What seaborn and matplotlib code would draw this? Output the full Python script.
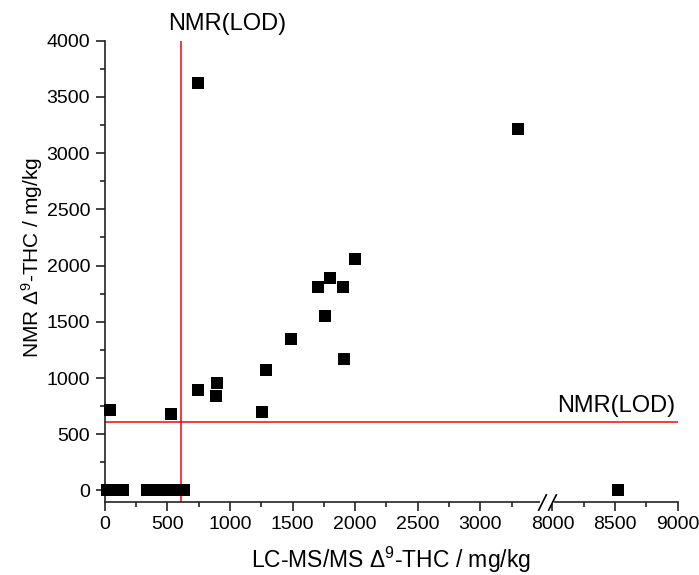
import numpy as np
import pandas as pd
import matplotlib
matplotlib.use('Agg')
import matplotlib.pyplot as plt
from matplotlib.ticker import FixedLocator
import seaborn as sns

# values (mg/kg)
lcms = [20, 65, 110, 150, 340, 410, 480, 550, 630,
        40, 531, 746, 898, 890, 1257, 1289, 1488, 1759, 1911,
        1703, 1903, 1799, 1997, 745, 3298, 8521]
nmr = [0, 0, 0, 0, 0, 0, 0, 0, 0,
       715, 679, 892, 955, 839, 697, 1070, 1346, 1550, 1168,
       1808, 1808, 1889, 2058, 3621, 3212, 0]
lod_lcms = 610
lod_nmr = 605

x_major = [0, 500, 1000, 1500, 2000, 2500, 3000, 8000, 8500, 9000]
x_minor = [250, 750, 1250, 1750, 2250, 2750, 3250, 8250, 8750]
y_major = [0, 500, 1000, 1500, 2000, 2500, 3000, 3500, 4000]
y_minor = [250, 750, 1250, 1750, 2250, 2750, 3250, 3750]

data = pd.DataFrame({'lcms': lcms, 'nmr': nmr})

# broken x axis: squeeze the empty stretch between brk_lo and brk_hi
brk_lo, brk_hi, gap = 3490, 8000, 85


def fwd(x):
    x = np.asarray(x, dtype=float)
    mid = brk_lo + (x - brk_lo) * gap / (brk_hi - brk_lo)
    return np.where(x <= brk_lo, x, np.where(x >= brk_hi, x - (brk_hi - brk_lo - gap), mid))


def inv(y):
    y = np.asarray(y, dtype=float)
    mid = brk_lo + (y - brk_lo) * (brk_hi - brk_lo) / gap
    return np.where(y <= brk_lo, y, np.where(y >= brk_lo + gap, y + (brk_hi - brk_lo - gap), mid))


sns.set_style('ticks')
plt.rcParams['font.family'] = ['Liberation Sans', 'DejaVu Sans']
plt.rcParams['mathtext.fontset'] = 'custom'
plt.rcParams['mathtext.rm'] = 'Liberation Sans'
plt.rcParams['mathtext.it'] = 'Liberation Sans'
plt.rcParams['mathtext.default'] = 'regular'
plt.rcParams['text.color'] = 'black'
plt.rcParams['axes.labelcolor'] = 'black'
plt.rcParams['xtick.color'] = 'black'
plt.rcParams['ytick.color'] = 'black'

fig = plt.figure(figsize=(6.99, 5.75), dpi=100)
ax = fig.add_axes([0.1498, 0.1275, 0.8197, 0.8017])
ax.set_xscale('function', functions=(fwd, inv))

sns.scatterplot(data=data, x='lcms', y='nmr', marker='s', s=64, color='black',
                linewidth=0, ax=ax, zorder=3, clip_on=False)

ax.axvline(lod_lcms, color='#ff0000', lw=1.1, zorder=2)
ax.axhline(lod_nmr, color='#ff0000', lw=1.1, zorder=2)

ax.set_xlim(0, 9000)
ax.set_ylim(-100, 4000)
ax.xaxis.set_major_locator(FixedLocator(x_major))
ax.xaxis.set_minor_locator(FixedLocator(x_minor))
ax.yaxis.set_major_locator(FixedLocator(y_major))
ax.yaxis.set_minor_locator(FixedLocator(y_minor))
ax.set_xticklabels([str(v) for v in x_major])
ax.set_yticklabels([str(v) for v in y_major])

for s in ['top', 'right']:
    ax.spines[s].set_visible(False)
for s in ['left', 'bottom']:
    ax.spines[s].set_linewidth(1.2)
    ax.spines[s].set_color('#222222')
ax.tick_params(which='major', length=6.5, width=1.2, labelsize=14, pad=4, color='#222222')
ax.tick_params(which='minor', length=3.6, width=1.2, color='#222222')

# axis break marks
tr = ax.get_xaxis_transform()
ax.plot([brk_lo, brk_hi], [0, 0], color='white', lw=3, transform=tr, clip_on=False, zorder=4)
ax.plot([brk_lo, brk_hi], [0, 0], ls='none', marker=[(-0.5, -1), (0.5, 1)], ms=12,
        mew=1.2, color='black', transform=tr, clip_on=False, zorder=5)

ax.set_xlabel(r'LC-MS/MS $\Delta^9$-THC / mg/kg', fontsize=16.5, labelpad=8)
ax.set_ylabel(r'NMR $\Delta^9$-THC / mg/kg', fontsize=15)
ax.yaxis.set_label_coords(-0.104, 0.53)

ax.text(lod_lcms + 370, 1.012, 'NMR(LOD)', transform=tr, ha='center', va='bottom', fontsize=17)
ax.text(0.995, lod_nmr + 50, 'NMR(LOD)', transform=ax.get_yaxis_transform(),
        ha='right', va='bottom', fontsize=17)

fig.savefig('out.png', dpi=100)
